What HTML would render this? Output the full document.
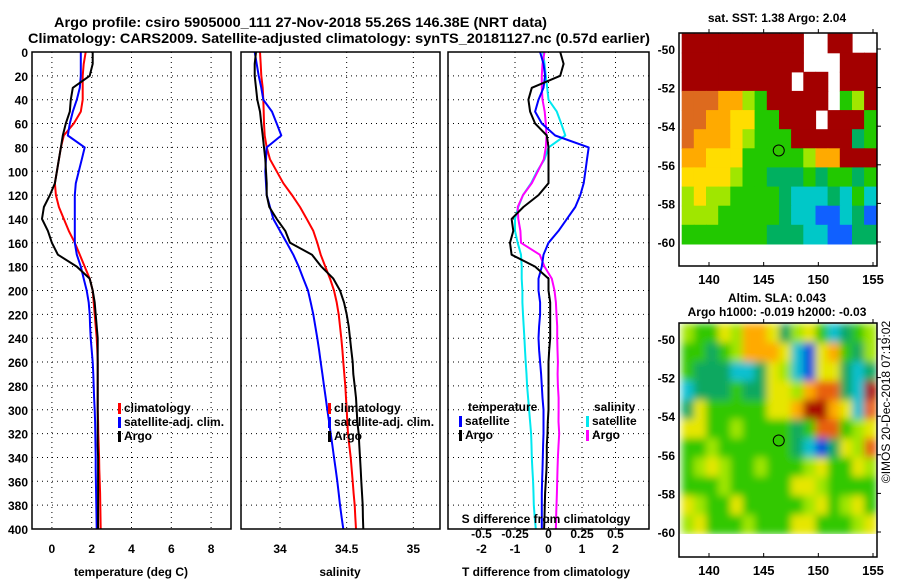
<!DOCTYPE html>
<html><head><meta charset="utf-8"><style>
body{margin:0;background:#fff}
svg{display:block;font-family:"Liberation Sans",sans-serif;font-weight:bold}
</style></head><body>
<svg id="c" width="900" height="580" viewBox="0 0 900 580">
<defs>
<filter id="smooth" x="-5%" y="-5%" width="110%" height="110%"><feGaussianBlur stdDeviation="4"/></filter>
<clipPath id="slaclip"><rect x="679" y="323" width="198" height="211"/></clipPath>
</defs>
<rect width="900" height="580" fill="#fff"/>
<text x="54" y="27" font-size="14" textLength="493" lengthAdjust="spacingAndGlyphs">Argo profile: csiro 5905000_111 27-Nov-2018 55.26S 146.38E (NRT data)</text>
<text x="28" y="43" font-size="14" textLength="622" lengthAdjust="spacingAndGlyphs">Climatology: CARS2009. Satellite-adjusted climatology: synTS_20181127.nc (0.57d earlier)</text>
<g id="plots"></g>
<text transform="translate(890,402) rotate(-90)" font-size="12" font-weight="normal" text-anchor="middle">©IMOS 20-Dec-2018 07:19:02</text>
</svg>
<script>
// ---- profile data ----
const depths = [0,10,20,30,40,50,60,70,80,90,100,110,120,130,140,150,160,170,180,190,200,210,220,230,240,250,260,270,280,290,300,310,320,330,340,350,360,370,380,390,400];
const argoT = [2.05,2.05,1.9,1.05,0.95,0.9,0.7,0.55,0.45,0.35,0.25,0.15,-0.1,-0.4,-0.5,-0.2,0.0,0.3,1.25,1.9,2.05,2.15,2.2,2.25,2.3,2.3,2.3,2.3,2.3,2.3,2.3,2.3,2.3,2.3,2.32,2.32,2.32,2.32,2.32,2.32,2.32];
const climT = [1.7,1.6,1.55,1.55,1.55,1.45,1.1,0.6,0.45,0.35,0.25,0.15,0.2,0.35,0.6,0.85,1.15,1.4,1.65,1.9,2.05,2.1,2.15,2.2,2.25,2.28,2.3,2.3,2.3,2.3,2.3,2.32,2.33,2.35,2.37,2.38,2.4,2.42,2.43,2.44,2.45];
const satT = [1.45,1.45,1.45,1.4,1.25,1.05,0.9,0.8,1.65,1.5,1.35,1.2,1.15,1.15,1.15,1.15,1.15,1.25,1.45,1.6,1.75,1.85,1.9,1.92,1.95,2.0,2.05,2.08,2.1,2.12,2.15,2.17,2.18,2.19,2.2,2.2,2.21,2.22,2.23,2.24,2.25];
const argoS = [33.82,33.81,33.81,33.82,33.83,33.85,33.86,33.87,33.88,33.89,33.895,33.9,33.9,33.92,33.975,34.04,34.075,34.24,34.31,34.4,34.45,34.48,34.5,34.515,34.525,34.535,34.545,34.55,34.56,34.57,34.575,34.58,34.59,34.595,34.6,34.605,34.61,34.615,34.62,34.622,34.625];
const climS = [33.85,33.855,33.86,33.87,33.875,33.878,33.88,33.885,33.9,33.925,33.975,34.025,34.09,34.15,34.2,34.25,34.28,34.305,34.34,34.375,34.405,34.425,34.44,34.45,34.46,34.468,34.475,34.482,34.49,34.495,34.5,34.505,34.51,34.52,34.53,34.538,34.545,34.552,34.56,34.565,34.57];
const satS = [33.81,33.825,33.84,33.86,33.875,33.94,33.975,34.01,33.9,33.895,33.89,33.895,33.9,33.925,33.95,34.0,34.05,34.1,34.14,34.175,34.21,34.23,34.25,34.265,34.28,34.293,34.305,34.318,34.33,34.343,34.355,34.368,34.38,34.393,34.405,34.418,34.43,34.44,34.45,34.462,34.475];
const depthTicks = [0,20,40,60,80,100,120,140,160,180,200,220,240,260,280,300,320,340,360,380,400];
const tTicks = [0,2,4,6,8];
const sTicks = [34,34.5,35];
const dTTicks = [-2,-1,0,1,2];
const dSTicks = [-0.5,-0.25,0,0.25,0.5];
// ---- map data (rows north->south, cols west->east) ----
const sstGrid = [
"RRRRRRRRRR..RR..",
"RRRRRRRRRR...RRR",
"RRRRRRRRR.RR.RRR",
"OOOooyGRRRRR.GyR",
"OOooYYGGRRR.RRRG",
"OoooYyGGGRRRRRgG",
"ooYYYGGGGGyooRRR",
"YYYYyGGgggGgGGgG",
"yYyyGGGGgCCCgCGC",
"yyyGGGGGgCCBBCgB",
"GGGGGGGgggCCBBgg"];
const slaGrid = [
"yGGYyooYgyYGCgGy",
"GGgGyoooYCBYoGgy",
"GgggCCgYyCBYYgCg",
"CgggGggYYyoOOgCR",
"gYGGGGGYYoRRoYCO",
"YYGGyGGGGgGOOGyY",
"GGyGGGGGGgCBgYyO",
"GyYyGGyGGGyYGGYy",
"GGGyGGGGGYYyGGGG",
"YyGGYGGGGGyYGyYG",
"yYGGGyGGGYYGGGyY"];
const sstColors = {R:"#a30000",O:"#dd6a1e",o:"#ffaa00",Y:"#ffdd00",y:"#a0e600",G:"#22c800",g:"#00b060",C:"#00c8c8",B:"#1060ff"};
const slaColors = {R:"#a81000",O:"#e86010",o:"#ffaa00",Y:"#e6e600",y:"#a0e600",G:"#30c800",g:"#10a860",C:"#10c0d0",B:"#0050e0"};
const lonTicks = [140,145,150,155];
const latTicks = [-50,-52,-54,-56,-58,-60];
const argoLon = 146.38, argoLat = -55.26;

const NS="http://www.w3.org/2000/svg";
const root=document.getElementById('plots');
function mk(tag,attrs,parent){const e=document.createElementNS(NS,tag);for(const k in attrs)e.setAttribute(k,attrs[k]);(parent||root).appendChild(e);return e;}
function txt(x,y,s,anchor,size,parent){const t=mk('text',{x:x,y:y,'font-size':size||12,'text-anchor':anchor||'start'},parent);t.textContent=s;return t;}

const Y0=52,Y1=529;
const yD=d=>Y0+(d/400)*(Y1-Y0);
function panel(name,x0,x1,vmin,vmax){
  const g=mk('g',{});
  
  
  return {g:g,x:v=>x0+(v-vmin)/(vmax-vmin)*(x1-x0),x0:x0,x1:x1};
}
function grid(p,xticks){
  depthTicks.forEach(d=>{if(d>0&&d<400){const l=mk('line',{x1:p.x0,x2:p.x1,y1:yD(d),y2:yD(d),stroke:'#000','stroke-width':1,'stroke-dasharray':'1,4'},p.g);}});
  xticks.forEach(v=>{const l=mk('line',{x1:p.x(v),x2:p.x(v),y1:Y0,y2:Y1,stroke:'#000','stroke-width':1,'stroke-dasharray':'1,4'},p.g);});
}
function frame(p){const r=mk('rect',{x:p.x0,y:Y0,width:p.x1-p.x0,height:Y1-Y0,fill:'none',stroke:'#000','stroke-width':1.5},p.g);}
function line(p,vals,color,name,w){
  let d='';vals.forEach((v,i)=>{if(v==null)return;d+=(d?'L':'M')+p.x(v).toFixed(1)+','+yD(depths[i]).toFixed(1);});
  const e=mk('path',{d:d,fill:'none',stroke:color,'stroke-width':w||2,'stroke-linejoin':'round'},p.g);
  
}
function legend(p,x,y,items){
  items.forEach((it,i)=>{
    const r=mk('rect',{x:x,y:y+i*14-9,width:3,height:11,fill:it[1]},p.g);
    
    const t=txt(x+6,y+i*14,it[0],'start',12,p.g);
    
  });
}

// Panel 1 temperature
const p1=panel('temperature-panel',32,231,-1,9);
grid(p1,tTicks);
line(p1,climT,'#f00','climatology-temperature-line');
line(p1,satT,'#0000ff','satellite-temperature-line');
line(p1,argoT,'#000','argo-temperature-line');
frame(p1);
depthTicks.forEach(d=>{const t=txt(28,yD(d)+5,String(d),'end',12,p1.g);});
tTicks.forEach(v=>{const t=txt(p1.x(v),553,String(v),'middle',12,p1.g);});
{const t=txt(131,576,'temperature (deg C)','middle',12,p1.g);}
legend(p1,118,412,[['climatology','#f00'],['satellite-adj. clim.','#00f'],['Argo','#000']]);

// Panel 2 salinity
const p2=panel('salinity-panel',241,440,33.7075,35.2);
grid(p2,sTicks);
line(p2,climS,'#f00','climatology-salinity-line');
line(p2,satS,'#0000ff','satellite-salinity-line');
line(p2,argoS,'#000','argo-salinity-line');
frame(p2);
sTicks.forEach(v=>{const t=txt(p2.x(v),553,String(v),'middle',12,p2.g);});
{const t=txt(340,576,'salinity','middle',12,p2.g);}
legend(p2,328,412,[['climatology','#f00'],['satellite-adj. clim.','#00f'],['Argo','#000']]);

// Panel 3 differences (computed from profile arrays)
const p3=panel('difference-panel',448,649,-3,3);
const SF=4; // S axis spans ±0.75 across panel
const sx=v=>p3.x(v*SF);
grid(p3,dTTicks);
const dSsat=satS.map((v,i)=>(v-climS[i])*SF);
const dSargo=argoS.map((v,i)=>(v-climS[i])*SF);
const dTsat=satT.map((v,i)=>v-climT[i]);
const dTargo=argoT.map((v,i)=>v-climT[i]);
line(p3,dSsat,'#00e8f0','satellite-salinity-diff-line');
line(p3,dSargo,'#ff00ff','argo-salinity-diff-line');
line(p3,dTsat,'#0000ff','satellite-temperature-diff-line');
line(p3,dTargo,'#000','argo-temperature-diff-line');
frame(p3);
dTTicks.forEach(v=>{const t=txt(p3.x(v),553,String(v),'middle',12,p3.g);});
dSTicks.forEach(v=>{const t=txt(sx(v),538,String(v),'middle',12,p3.g);});
{const t=txt(546,523,'S difference from climatology','middle',12,p3.g);}
{const t=txt(546,576,'T difference from climatology','middle',12,p3.g);}
{const t=txt(468,411,'temperature','start',12,p3.g);}
{const t=txt(594,411,'salinity','start',12,p3.g);}
legend(p3,459,425,[['satellite','#00f'],['Argo','#000']]);
legend(p3,586,425,[['satellite','#00e8f0'],['Argo','#f0f']]);

// Maps
function map(name,gridRows,colors,top,bottom,lat50y,lat60y,smooth){
  const g=mk('g',{});
  
  const L=679,R=877;
  const mx=lon=>709+(lon-140)*(873-709)/15;
  const my=lat=>lat50y+(-50-lat)*(lat60y-lat50y)/10;
  const lonA=137.5,lonB=155.3,latA=-49.2,latB=-60.1;
  const nr=gridRows.length,nc=gridRows[0].length;
  const cw=(mx(lonB)-mx(lonA))/nc, ch=(my(latB)-my(latA))/nr;
  let cg=g;
  if(smooth){
    const outer=mk('g',{'clip-path':'url(#slaclip)'},g);
    cg=mk('g',{filter:'url(#smooth)'},outer);
  }
  gridRows.forEach((row,r)=>{[...row].forEach((c,k)=>{
    if(c==='.')return;
    const e=mk('rect',{x:(mx(lonA)+k*cw).toFixed(1),y:(my(latA)+r*ch).toFixed(1),width:(cw+0.6).toFixed(1),height:(ch+0.6).toFixed(1),fill:colors[c]},cg);
    
  });});
  const fr=mk('rect',{x:L,y:top,width:R-L,height:bottom-top,fill:'none',stroke:'#000','stroke-width':1.5},g);
  
  lonTicks.forEach(v=>{
    mk('line',{x1:mx(v),x2:mx(v),y1:top,y2:top-4,stroke:'#000'},g);
    mk('line',{x1:mx(v),x2:mx(v),y1:bottom,y2:bottom-4,stroke:'#000'},g);
    const t=txt(mx(v),bottom+18,String(v),'middle',13,g);
  });
  latTicks.forEach(v=>{
    mk('line',{x1:R,x2:R+4,y1:my(v),y2:my(v),stroke:'#000'},g);
    const t=txt(675,my(v)+5,String(v),'end',12,g);
  });
  const c=mk('circle',{cx:mx(argoLon),cy:my(argoLat),r:5.5,fill:'#30c800',stroke:'#000','stroke-width':1},g);
  
  return g;
}
map('sst-map',sstGrid,sstColors,33,266,49,242,false);
map('sla-map',slaGrid,slaColors,323,557,339,532,true);
{const t=txt(777,22,'sat. SST: 1.38 Argo: 2.04','middle',12);}
{const t=txt(777,302,'Altim. SLA: 0.043','middle',12);}
{const t=txt(777,316,'Argo h1000: -0.019 h2000: -0.03','middle',12);}
</script>
</body></html>
